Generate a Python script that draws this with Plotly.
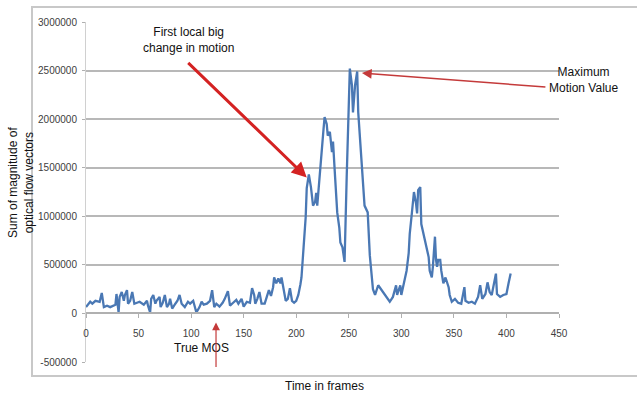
import plotly.graph_objects as go

frames = [0, 4, 6, 9, 13, 15, 17, 20, 23, 28, 29, 31, 32, 34, 36, 37, 39, 40, 42, 44,
          46, 49, 51, 55, 58, 59, 61, 62, 64, 66, 67, 70, 71, 73, 75, 77, 79, 80, 82, 85,
          87, 89, 91, 94, 97, 99, 102, 105, 108, 110, 112, 115, 118, 120, 122, 124, 127, 130, 132, 135,
          137, 140, 143, 145, 148, 150, 153, 156, 158, 160, 161, 163, 165, 167, 170, 172, 174, 176, 178, 179,
          181, 183, 185, 186, 188, 190, 192, 194, 196, 198, 200, 202, 204, 205, 207, 209, 210, 212, 214, 216,
          218, 219, 220, 222, 224, 226, 227, 229, 230, 232, 234, 235, 237, 239, 241, 242, 244, 245, 246, 248,
          250, 251, 253, 254, 256, 258, 259, 262, 265, 268, 270, 273, 275, 278, 281, 284, 287, 289, 292, 295,
          296, 299, 300, 302, 303, 305, 307, 308, 310, 311, 312, 314, 315, 316, 318, 319, 321, 322, 324, 326,
          327, 329, 330, 332, 333, 334, 335, 337, 338, 340, 342, 345, 346, 348, 351, 354, 357, 360, 361, 364,
          367, 370, 373, 375, 377, 380, 382, 384, 386, 388, 390, 391, 394, 397, 400, 402, 404]

motion_k = [65, 120, 100, 130, 120, 210, 65, 80, 65, 90, 200, 10, 170, 220, 130, 190, 240, 100, 130, 220,
            100, 110, 120, 90, 130, 80, 10, 150, 190, 100, 130, 170, 65, 110, 190, 65, 100, 150, 50, 100,
            130, 190, 100, 65, 120, 100, 130, 10, 65, 120, 90, 100, 130, 240, 65, 100, 70, 110, 150, 230,
            80, 110, 140, 100, 150, 70, 120, 110, 260, 190, 100, 150, 220, 100, 100, 170, 240, 180, 270, 370,
            310, 360, 310, 370, 240, 130, 150, 260, 130, 110, 130, 190, 300, 370, 680, 990, 1290, 1430, 1300, 1110,
            1150, 1240, 1110, 1400, 1700, 1900, 2020, 1950, 1830, 1870, 1660, 1770, 1400, 1040, 880, 730, 680, 600, 530, 1400,
            2320, 2520, 2350, 2070, 2350, 2490, 2070, 1630, 1110, 1040, 600, 250, 190, 290, 240, 190, 140, 120, 170, 290,
            190, 290, 190, 290, 320, 440, 620, 820, 1030, 1200, 1250, 1130, 1030, 1270, 1300, 920, 820, 750, 680, 580,
            440, 370, 480, 790, 550, 480, 550, 550, 440, 310, 370, 270, 190, 120, 150, 110, 100, 270, 130, 110,
            120, 100, 170, 290, 150, 200, 320, 220, 190, 310, 410, 200, 170, 190, 200, 310, 410]

motion = [v * 1000 for v in motion_k]

y_ticks = [-500000, 0, 500000, 1000000, 1500000, 2000000, 2500000, 3000000]
x_ticks = [0, 50, 100, 150, 200, 250, 300, 350, 400, 450]

W, H = 637, 393
ML, MR, MT, MB = 86, 78, 22, 31
PW, PH = W - ML - MR, H - MT - MB

def px(xp):
    return (xp - ML) / PW

def py(yp):
    return (H - MB - yp) / PH

tick_font = dict(family="Liberation Sans, Arial, sans-serif", size=10, color="#404040")
text_font = dict(family="Liberation Sans, Arial, sans-serif", size=12, color="#111111")

fig = go.Figure()
fig.add_trace(go.Scatter(x=frames, y=motion, mode="lines",
                         line=dict(color="#4A78B4", width=2.3), showlegend=False))

ymin, ymax = y_ticks[0], y_ticks[-1]
fig.update_layout(
    width=W, height=H,
    margin=dict(l=ML, r=MR, t=MT, b=MB),
    paper_bgcolor="white", plot_bgcolor="white",
    xaxis=dict(range=[x_ticks[0], x_ticks[-1]], tickvals=x_ticks, showgrid=False,
               anchor="free", position=(0 - ymin) / (ymax - ymin),
               showline=True, linecolor="#b0b0b0", linewidth=1.5,
               ticks="outside", ticklen=4, tickcolor="#b0b0b0", tickwidth=1.2,
               ticklabelstandoff=7,
               tickfont=tick_font, zeroline=False, automargin=False),
    yaxis=dict(range=[ymin, ymax], tickvals=y_ticks, ticktext=[str(v) for v in y_ticks],
               showgrid=True, gridcolor="#b8b8b8", gridwidth=1.5,
               zeroline=True, zerolinecolor="#b0b0b0", zerolinewidth=1.5,
               showline=True, linecolor="#d0d0d0", linewidth=1,
               ticks="outside", ticklen=3, tickcolor="#b0b0b0",
               ticklabelstandoff=3,
               tickfont=tick_font, automargin=False),
)

# outer chart frame
fig.add_shape(type="rect", xref="paper", yref="paper",
              x0=px(32), x1=px(645), y0=py(376), y1=py(7),
              line=dict(color="#c8c8c8", width=2), layer="below")

# axis titles
fig.add_annotation(text="Sum of magnitude of<br>optical flow vectors", xref="paper", yref="paper",
                   x=px(21), y=py(183), textangle=-90, showarrow=False, font=text_font,
                   xanchor="center", yanchor="middle")
fig.add_annotation(text="Time in frames", xref="paper", yref="paper",
                   x=px(324), y=py(386), showarrow=False, font=text_font,
                   xanchor="center", yanchor="middle")

# first local big change
fig.add_annotation(text="First local big<br>change in motion", xref="paper", yref="paper",
                   x=px(188), y=py(40), showarrow=False, font=text_font,
                   xanchor="center", yanchor="middle")
fig.add_annotation(text="", x=210, y=1400000, showarrow=True, arrowhead=2, arrowsize=1,
                   arrowwidth=3, arrowcolor="#D42222", ax=-120, ay=-116)

# maximum motion value
fig.add_annotation(text="Maximum<br>Motion Value", xref="paper", yref="paper",
                   x=px(583), y=py(80), showarrow=False, font=text_font,
                   xanchor="center", yanchor="middle")
fig.add_annotation(text="", x=262.5, y=2474000, showarrow=True, arrowhead=2, arrowsize=1.3,
                   arrowwidth=1.5, arrowcolor="#C43A3A", ax=185, ay=14)

# true MOS
fig.add_annotation(text="True MOS", x=109.5, y=-360000, showarrow=False, font=text_font,
                   xanchor="center", yanchor="middle")
fig.add_annotation(text="", x=123.7, y=-93000, showarrow=True, arrowhead=2, arrowsize=1.3,
                   arrowwidth=1.2, arrowcolor="#C43A3A", ax=0, ay=46)

fig.write_html("out.html", config={"displayModeBar": False},
               post_script="document.body.style.margin='0';")
